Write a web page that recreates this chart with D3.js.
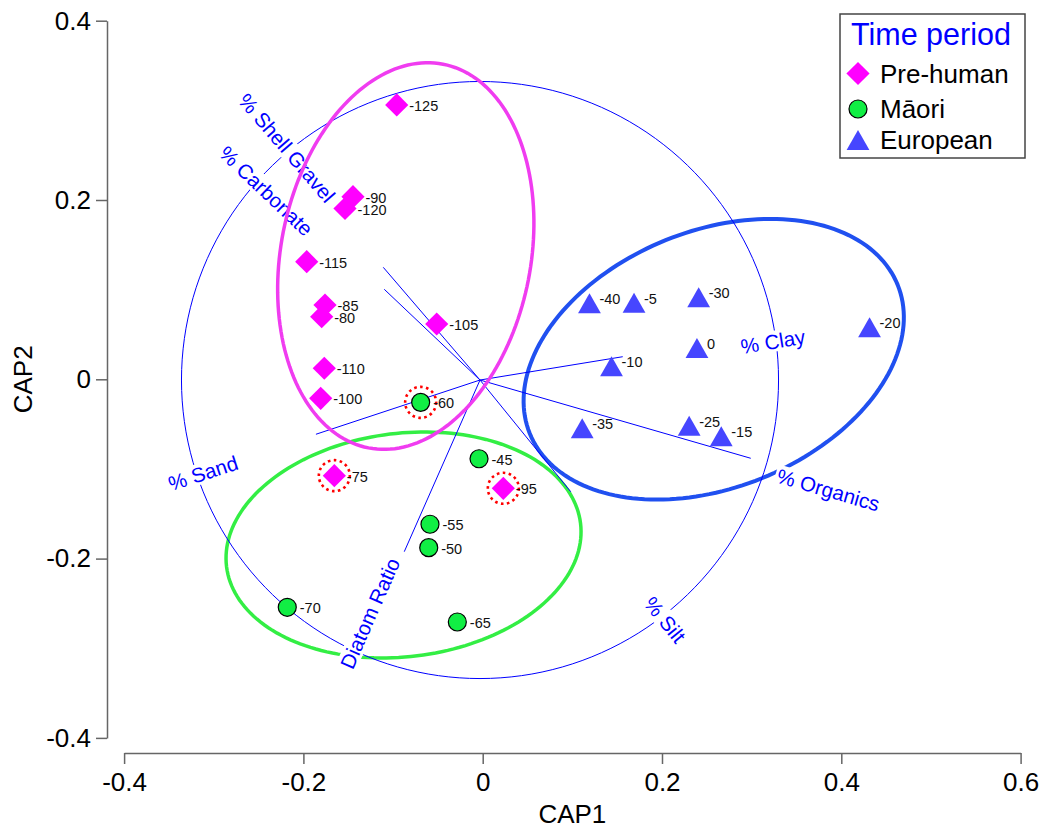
<!DOCTYPE html>
<html>
<head>
<meta charset="utf-8">
<script src="https://cdn.jsdelivr.net/npm/d3@7"></script>
<style>
  body { margin: 0; background: #fff; }
  text { font-family: "Liberation Sans", Arial, sans-serif; }
</style>
</head>
<body>
<svg id="chart"></svg>
<script>
// tick values
const xTicks = [-0.4, -0.2, 0, 0.2, 0.4, 0.6];
const yTicks = [-0.4, -0.2, 0, 0.2, 0.4];

// samples: [depth label, CAP1, CAP2]
const preHuman = [
  ["-125", -0.0959, 0.3060],
  ["-120", -0.1536, 0.1905],
  ["-90", -0.1447, 0.2037],
  ["-115", -0.1963, 0.1312],
  ["-80", -0.1796, 0.0698],
  ["-85", -0.1759, 0.0829],
  ["-105", -0.0513, 0.0617],
  ["-110", -0.1767, 0.0123],
  ["-100", -0.1807, -0.0212],
  ["-75", -0.1655, -0.1075],
  ["-95", 0.0230, -0.1216]
];
const maori = [
  ["-60", -0.0692, -0.0257],
  ["-45", -0.0041, -0.0886],
  ["-55", -0.0588, -0.1617],
  ["-50", -0.0602, -0.1878],
  ["-70", -0.2180, -0.2543],
  ["-65", -0.0283, -0.2707]
];
const european = [
  ["-40", 0.1191, 0.0848],
  ["-5", 0.1688, 0.0854],
  ["-30", 0.2409, 0.0915],
  ["0", 0.2390, 0.0349],
  ["-10", 0.1437, 0.0146],
  ["-20", 0.4315, 0.0580],
  ["-35", 0.1110, -0.0547],
  ["-25", 0.2303, -0.0519],
  ["-15", 0.2661, -0.0636]
];
const outliers = ["-60", "-75", "-95"];

// group ellipses: centre, semi-axes (CAP units), rotation in degrees
const ellipses = [
  { period: "Māori", cx: -0.0883, cy: -0.1848, a: 0.1989, b: 0.1246, angle: 7 },
  { period: "European", cx: 0.2577, cy: 0.0224, a: 0.2213, b: 0.1432, angle: 22 },
  { period: "Pre-human", cx: -0.0858, cy: 0.1375, a: 0.2180, b: 0.1393, angle: 79 }
];

// environmental vectors
const envVars = ["% Shell Gravel", "% Carbonate", "% Sand", "Diatom Ratio", "% Clay", "% Organics", "% Silt"];
const envX = [-0.1109, -0.1098, -0.1860, -0.0875, 0.1562, 0.2990, 0.0982];
const envY = [0.1249, 0.1004, -0.0613, -0.1923, 0.0252, -0.0881, -0.1254];
const envLabelX = [-0.2186, -0.2417, -0.3118, -0.1257, 0.3238, 0.3855, 0.2033];
const envLabelY = [0.2580, 0.2100, -0.1048, -0.2610, 0.0419, -0.1235, -0.2684];
const vecOrigin = [-0.003, -0.0008];
const circleRadius = 0.333;

const periods = ["Pre-human", "Māori", "European"];

const W = 1043, H = 829;
const svg = d3.select('#chart').attr('width', W).attr('height', H);

const x = d3.scaleLinear().domain([-0.4, 0.6]).range([124.1, 1020.6]);
const y = d3.scaleLinear().domain([-0.4, 0.4]).range([737.9, 20.7]);

const ellipseColor = { "Pre-human": "#f03cf0", "Māori": "#33ee44", "European": "#2050f0" };
const blue = "#0000ff";

// axes
const fmt = d => d === 0 ? "0" : d.toFixed(1);
const xAxis = svg.append('g')
  .attr('transform', 'translate(0,753)')
  .call(d3.axisBottom(x).tickValues(xTicks).tickFormat(fmt).tickSize(11).tickSizeOuter(0).tickPadding(9));
const yAxis = svg.append('g')
  .attr('transform', 'translate(107,0)')
  .call(d3.axisLeft(y).tickValues(yTicks).tickFormat(fmt).tickSize(11).tickSizeOuter(0).tickPadding(5));
[xAxis, yAxis].forEach(g => {
  g.selectAll('path, line').attr('stroke', '#666').attr('stroke-width', 1.5);
  g.selectAll('text').attr('font-size', 26).attr('fill', '#000')
    .style('font-family', '"Liberation Sans", Arial, sans-serif');
});

svg.append('text')
  .attr('x', (x(-0.4) + x(0.6)) / 2).attr('y', 823)
  .attr('text-anchor', 'middle').attr('font-size', 26).text('CAP1');
svg.append('text')
  .attr('transform', `translate(32,${(y(-0.4) + y(0.4)) / 2}) rotate(-90)`)
  .attr('text-anchor', 'middle').attr('font-size', 26).text('CAP2');

// ellipse outline in data space
function ellipsePoints(cx, cy, a, b, angleDeg) {
  const th = angleDeg * Math.PI / 180;
  return d3.range(0, 360, 2).map(t => {
    const r = t * Math.PI / 180;
    return [
      cx + a * Math.cos(th) * Math.cos(r) - b * Math.sin(th) * Math.sin(r),
      cy + a * Math.sin(th) * Math.cos(r) + b * Math.cos(th) * Math.sin(r)
    ];
  });
}
const closedLine = d3.line().x(d => x(d[0])).y(d => y(d[1])).curve(d3.curveLinearClosed);

const drawEllipse = e => svg.append('path')
  .attr('d', closedLine(ellipsePoints(e.cx, e.cy, e.a, e.b, e.angle)))
  .attr('fill', 'none')
  .attr('stroke', ellipseColor[e.period])
  .attr('stroke-width', e.period === "European" ? 4 : 3.5);

ellipses.filter(e => e.period !== "Pre-human").forEach(drawEllipse);

// correlation circle
svg.append('path')
  .attr('d', closedLine(ellipsePoints(vecOrigin[0], vecOrigin[1], circleRadius, circleRadius, 0)))
  .attr('fill', 'none').attr('stroke', blue).attr('stroke-width', 1);

// vectors
svg.selectAll('.vec')
  .data(envVars)
  .enter()
  .append('line')
  .attr('class', 'vec')
  .attr('x1', x(vecOrigin[0])).attr('y1', y(vecOrigin[1]))
  .attr('x2', (d, i) => x(envX[i])).attr('y2', (d, i) => y(envY[i]))
  .attr('stroke', blue).attr('stroke-width', 1);

// vector labels on white boxes, rotated along the vector
envVars.forEach((name, i) => {
  const dx = x(envX[i]) - x(vecOrigin[0]);
  const dy = y(envY[i]) - y(vecOrigin[1]);
  let ang = Math.atan2(dy, dx) * 180 / Math.PI;
  if (ang > 90) ang -= 180;
  if (ang < -90) ang += 180;
  const g = svg.append('g')
    .attr('transform', `translate(${x(envLabelX[i])},${y(envLabelY[i])}) rotate(${ang})`);
  const t = g.append('text')
    .attr('text-anchor', 'middle').attr('dy', '0.35em')
    .attr('font-size', 20.5).attr('fill', blue).text(name);
  const bb = t.node().getBBox();
  g.insert('rect', 'text')
    .attr('x', bb.x - 2).attr('y', bb.y + 1)
    .attr('width', bb.width + 4).attr('height', bb.height - 2)
    .attr('fill', '#fff');
});

ellipses.filter(e => e.period === "Pre-human").forEach(drawEllipse);

// symbols
const diamond = 'M0,-11.6L11.6,0L0,11.6L-11.6,0Z';
const triangle = 'M0,-10L11.4,10L-11.4,10Z';
const symbolFill = { "Pre-human": "#ff00ff", "Māori": "#11ee44", "European": "#4646ff" };

function drawMark(g, period) {
  if (period === "Pre-human") {
    g.append('path').attr('d', diamond).attr('fill', symbolFill[period]);
  } else if (period === "Māori") {
    g.append('circle').attr('r', 9).attr('fill', symbolFill[period])
      .attr('stroke', '#000').attr('stroke-width', 1.2);
  } else {
    g.append('path').attr('d', triangle).attr('fill', symbolFill[period]);
  }
}

const groups = [["Pre-human", preHuman], ["Māori", maori], ["European", european]];
const allPts = groups.flatMap(([p, arr]) => arr.map(d => ({ period: p, label: d[0], cx: d[1], cy: d[2] })));

// red dotted rings for outliers
svg.selectAll('.ring')
  .data(allPts.filter(d => outliers.includes(d.label)))
  .enter()
  .append('circle')
  .attr('class', 'ring')
  .attr('cx', d => x(d.cx)).attr('cy', d => y(d.cy))
  .attr('r', 15.5)
  .attr('fill', 'none').attr('stroke', '#ff0000')
  .attr('stroke-width', 2.6).attr('stroke-dasharray', '2.6,3.4');

const pts = svg.selectAll('.pt')
  .data(allPts)
  .enter()
  .append('g')
  .attr('class', 'pt')
  .attr('transform', d => `translate(${x(d.cx)},${y(d.cy)})`);
pts.each(function (d) { drawMark(d3.select(this), d.period); });

svg.selectAll('.ptlab')
  .data(allPts)
  .enter()
  .append('text')
  .attr('class', 'ptlab')
  .attr('x', d => x(d.cx) + (d.period === "European" ? 10 : 12.5))
  .attr('y', d => y(d.cy) + (d.period === "European" ? -4 : 1))
  .attr('dy', '0.35em')
  .attr('font-size', 14.5).attr('fill', '#111')
  .text(d => d.label);

// legend
const leg = svg.append('g');
leg.append('rect')
  .attr('x', 840).attr('y', 14).attr('width', 185).attr('height', 144)
  .attr('fill', '#fff').attr('stroke', '#444').attr('stroke-width', 1.5);
leg.append('text')
  .attr('x', 851).attr('y', 45).attr('font-size', 30.5).attr('fill', blue).text('Time period');
periods.forEach((p, i) => {
  const cy = [73.5, 109, 140][i];
  const g = leg.append('g').attr('transform', `translate(858,${cy})`);
  drawMark(g, p);
  leg.append('text')
    .attr('x', 880).attr('y', cy).attr('dy', '0.36em')
    .attr('font-size', 26).attr('fill', '#000').text(p);
});
</script>
</body>
</html>
